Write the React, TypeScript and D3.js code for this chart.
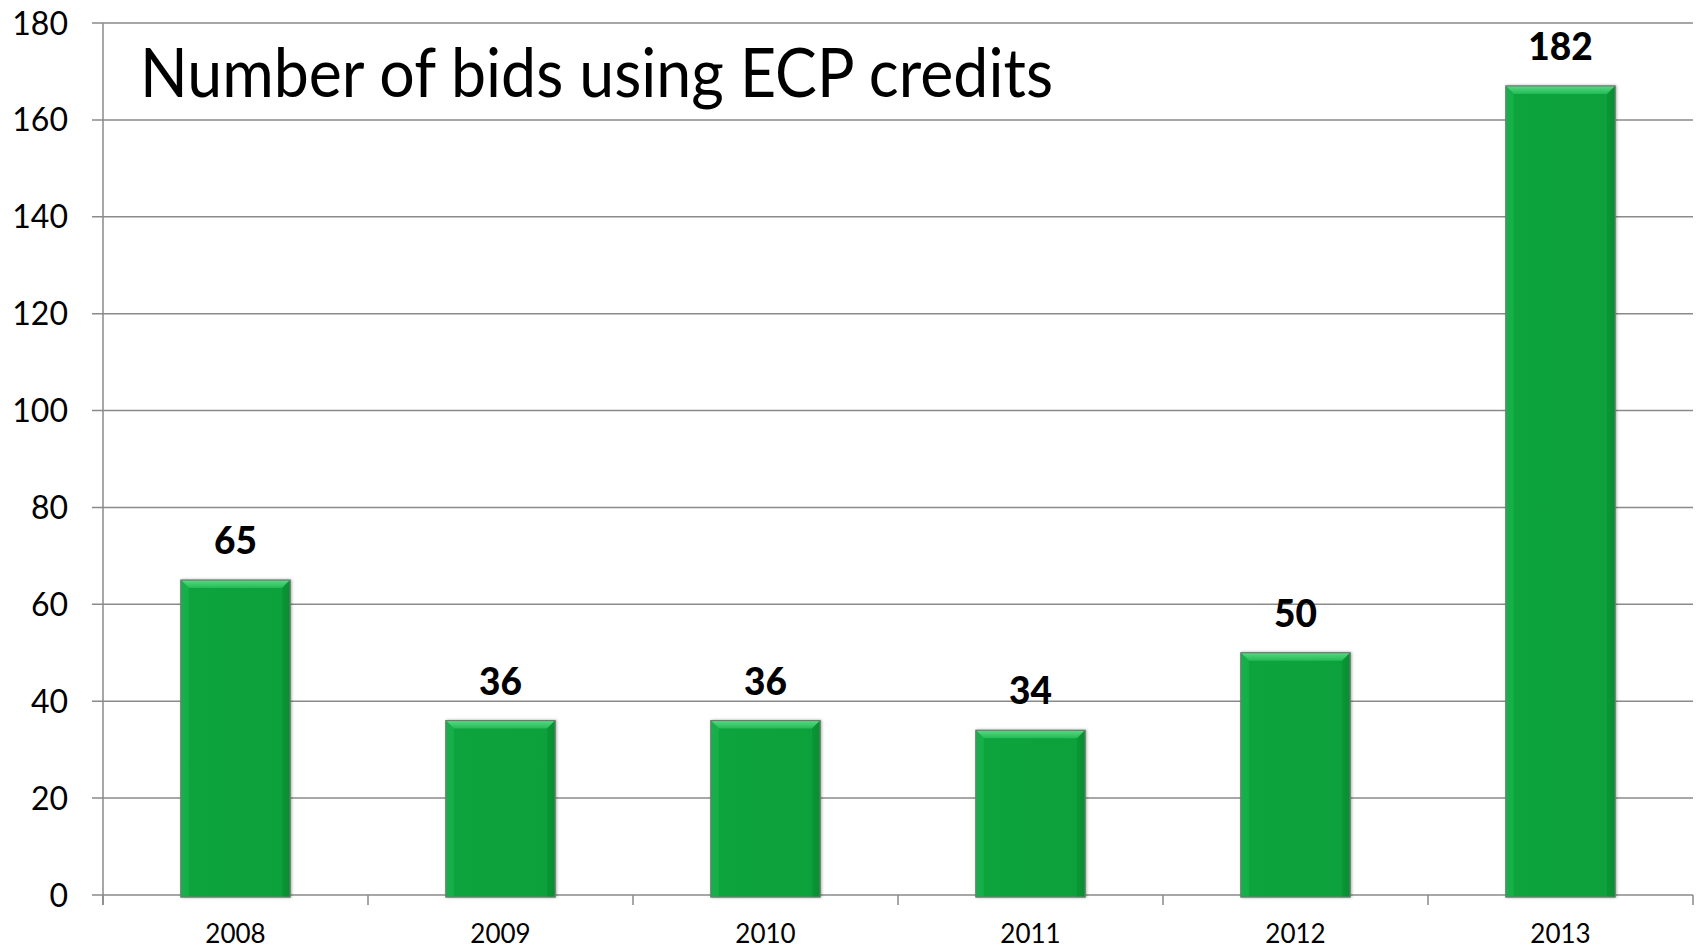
import React from "react";
import * as d3 from "d3";

const categories = ["2008", "2009", "2010", "2011", "2012", "2013"];
// bar heights as drawn in the picture (2013 bar drawn shorter than its label)
const barValues = [65, 36, 36, 34, 50, 167];
const dataLabels = ["65", "36", "36", "34", "50", "182"];
const yTicks = [0, 20, 40, 60, 80, 100, 120, 140, 160, 180];
const title = "Number of bids using ECP credits";

const W = 1698;
const H = 950;
const left = 103;
const right = 1693;
const top = 23;
const bottom = 895;

export default function App() {
  const x = d3
    .scaleBand<string>()
    .domain(categories)
    .range([left, right])
    .paddingInner(0.588)
    .paddingOuter(0.294);
  const y = d3.scaleLinear().domain([0, 180]).range([bottom, top]);
  const step = x.step();
  const bw = x.bandwidth();
  const bev = 8;
  const font = "Lato, 'Open Sans', sans-serif";

  return (
    <svg
      width={W}
      height={H}
      style={{ position: "absolute", left: 0, top: 0, background: "#fff" }}
    >
      <defs>
        <linearGradient id="topBev" x1="0" y1="0" x2="0" y2="1">
          <stop offset="0" stopColor="#5ad884" />
          <stop offset="1" stopColor="#22bb55" />
        </linearGradient>
        <linearGradient id="body" x1="0" y1="0" x2="1" y2="0">
          <stop offset="0" stopColor="#12ab44" />
          <stop offset="0.08" stopColor="#0aa33c" />
          <stop offset="0.92" stopColor="#09a13a" />
          <stop offset="1" stopColor="#078a31" />
        </linearGradient>
        <filter id="sh" x="-10%" y="-10%" width="120%" height="120%">
          <feDropShadow dx="1" dy="0" stdDeviation="1.5" floodColor="#000" floodOpacity="0.35" />
        </filter>
      </defs>

      {/* gridlines */}
      {yTicks.map((t) => (
        <line
          key={"g" + t}
          x1={left - 11}
          x2={right}
          y1={y(t)}
          y2={y(t)}
          stroke="#8a8a8a"
          strokeWidth={1.5}
        />
      ))}
      {/* y axis */}
      <line x1={left} x2={left} y1={top} y2={bottom + 10} stroke="#8a8a8a" strokeWidth={1.5} />
      {/* x ticks at category boundaries */}
      {categories.map((c, i) => (
        <line
          key={"xt" + c}
          x1={left + i * step}
          x2={left + i * step}
          y1={bottom}
          y2={bottom + 10}
          stroke="#8a8a8a"
          strokeWidth={1.5}
        />
      ))}
      <line x1={right} x2={right} y1={bottom} y2={bottom + 10} stroke="#8a8a8a" strokeWidth={1.5} />

      {/* y tick labels */}
      {yTicks.map((t) => (
        <text
          key={"yl" + t}
          x={68}
          y={y(t)}
          dy="0.36em"
          textAnchor="end"
          fontFamily={font}
          fontSize={32}
          fill="#000"
        >
          {t}
        </text>
      ))}

      {/* bars */}
      {categories.map((c, i) => {
        const x0 = x(c)!;
        const y0 = y(barValues[i]);
        const yb = y(0) + 2;
        const h = yb - y0;
        return (
          <g key={"b" + c}>
            <rect x={x0} y={y0} width={bw} height={h} fill="url(#body)" stroke="#6f8f78" strokeWidth={1} filter="url(#sh)" />
            <polygon
              points={`${x0},${y0} ${x0 + bw},${y0} ${x0 + bw - bev},${y0 + bev} ${x0 + bev},${y0 + bev}`}
              fill="url(#topBev)"
            />
            <polygon
              points={`${x0 + bw},${y0} ${x0 + bw},${yb} ${x0 + bw - bev},${yb} ${x0 + bw - bev},${y0 + bev}`}
              fill="#078f33"
              opacity={0.55}
            />
            <polygon
              points={`${x0},${y0} ${x0 + bev},${y0 + bev} ${x0 + bev},${yb} ${x0},${yb}`}
              fill="#1fb852"
              opacity={0.5}
            />
            <rect x={x0} y={y0} width={bw} height={h} fill="none" stroke="#5c7d66" strokeWidth={1} />
          </g>
        );
      })}

      {/* data labels */}
      {categories.map((c, i) => (
        <text
          key={"dl" + c}
          x={x(c)! + bw / 2}
          y={y(barValues[i]) - 26}
          textAnchor="middle"
          fontFamily={font}
          fontWeight={900}
          fontSize={37}
          fill="#000"
        >
          {dataLabels[i]}
        </text>
      ))}

      {/* x labels */}
      {categories.map((c) => (
        <text
          key={"xl" + c}
          x={x(c)! + bw / 2}
          y={943}
          textAnchor="middle"
          fontFamily={font}
          fontSize={26}
          fill="#000"
        >
          {c}
        </text>
      ))}

      {/* title */}
      <text
        x={140}
        y={97}
        fontFamily={font}
        fontSize={67}
        textLength={913}
        lengthAdjust="spacingAndGlyphs"
        fill="#000"
      >
        {title}
      </text>
    </svg>
  );
}
